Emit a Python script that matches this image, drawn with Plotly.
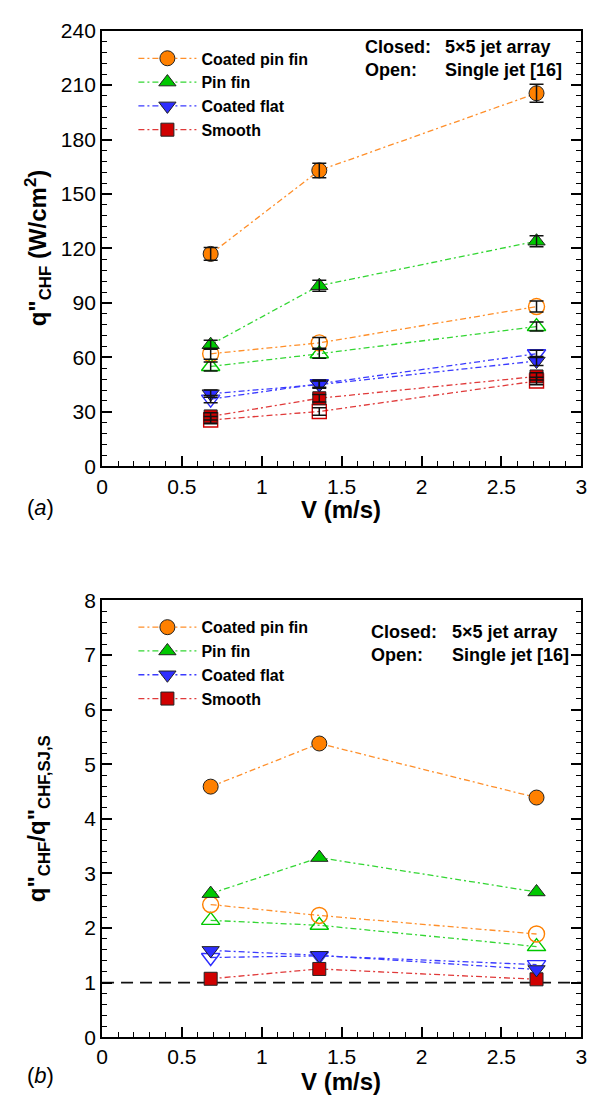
import plotly.graph_objects as go

# ---------------- data ----------------
V = [0.68, 1.36, 2.72]
series_names = ["Coated pin fin", "Pin fin", "Coated flat", "Smooth"]

# (a) CHF, W/cm2 : closed = 5x5 jet array, open = single jet [16]
chf_closed = {
    "Coated pin fin": [117, 163, 205.5],
    "Pin fin": [67, 99.5, 124],
    "Coated flat": [40, 45, 58],
    "Smooth": [27.5, 37.5, 49.5],
}
chf_closed_err = {
    "Coated pin fin": [3.5, 4, 5],
    "Pin fin": [2.5, 3, 3],
    "Coated flat": [2, 2, 2.5],
    "Smooth": [2, 2, 2],
}
chf_open = {
    "Coated pin fin": [62, 68, 88],
    "Pin fin": [55, 62, 77],
    "Coated flat": [37, 45.5, 62],
    "Smooth": [25.5, 30.2, 47],
}
chf_open_err = {
    "Coated pin fin": [3, 3, 3],
    "Pin fin": [2.5, 2.5, 2.5],
    "Coated flat": [2, 2, 2],
    "Smooth": [2, 2, 2],
}

# (b) ratio q"CHF / q"CHF,SJ,S
ratio_closed = {
    "Coated pin fin": [4.59, 5.38, 4.39],
    "Pin fin": [2.63, 3.29, 2.66],
    "Coated flat": [1.59, 1.50, 1.24],
    "Smooth": [1.07, 1.25, 1.06],
}
ratio_open = {
    "Coated pin fin": [2.43, 2.23, 1.89],
    "Pin fin": [2.14, 2.05, 1.66],
    "Coated flat": [1.46, 1.49, 1.33],
}
ref_x = [0, 3]
ref_y = [1, 1]

x_ticks = [0, 0.5, 1, 1.5, 2, 2.5, 3]
x_tick_text = ["0", "0.5", "1", "1.5", "2", "2.5", "3"]
ya_ticks = [0, 30, 60, 90, 120, 150, 180, 210, 240]
yb_ticks = [0, 1, 2, 3, 4, 5, 6, 7, 8]

# ---------------- styles ----------------
fill = {"Coated pin fin": "#FF8000", "Pin fin": "#00C800",
        "Coated flat": "#2E2EFF", "Smooth": "#D00000"}
linec = {"Coated pin fin": "#FF8F2A", "Pin fin": "#33D633",
         "Coated flat": "#3A3AFF", "Smooth": "#E03A3A"}
sym = {"Coated pin fin": "circle", "Pin fin": "triangle-up",
       "Coated flat": "triangle-down", "Smooth": "square"}
msize = {"Coated pin fin": 15, "Pin fin": 15, "Coated flat": 15, "Smooth": 13}
DASH = "6px,3px,2px,3px"
FONT = "Liberation Sans, Arial, sans-serif"

fig = go.Figure()

def add_series(xa, ya, yvals, name, filled, legend, showlegend, rank=1000):
    fig.add_trace(go.Scatter(
        x=V, y=yvals, xaxis=xa, yaxis=ya, name="<b>" + name + "</b>",
        mode="lines+markers",
        line=dict(color=linec[name], width=1.3, dash=DASH),
        marker=dict(
            symbol=sym[name] if filled else sym[name] + "-open",
            size=msize[name] if filled else msize[name] + 1,
            color=fill[name],
            line=dict(color="#222222" if filled else fill[name],
                      width=1 if filled else 1.4),
        ),
        legend=legend, showlegend=showlegend, legendrank=rank,
    ))

def add_err(xa, ya, yvals, err):
    fig.add_trace(go.Scatter(
        x=V, y=yvals, xaxis=xa, yaxis=ya, mode="markers",
        marker=dict(size=1, color="rgba(0,0,0,0)"),
        error_y=dict(type="data", array=err, color="#111111",
                     thickness=1.5, width=7),
        showlegend=False, hoverinfo="skip",
    ))

# (a)
for n in series_names[::-1]:
    add_series("x", "y", chf_open[n], n, False, "legend", False)
for i, n in list(enumerate(series_names))[::-1]:
    add_series("x", "y", chf_closed[n], n, True, "legend", True, rank=i + 1)
for n in series_names:
    add_err("x", "y", chf_open[n], chf_open_err[n])
    add_err("x", "y", chf_closed[n], chf_closed_err[n])

# (b)
fig.add_trace(go.Scatter(x=ref_x, y=ref_y, xaxis="x2", yaxis="y2", mode="lines",
                         line=dict(color="#111111", width=1.6, dash="12px,7px"),
                         showlegend=False, hoverinfo="skip"))
for n in ["Coated flat", "Pin fin", "Coated pin fin"]:
    add_series("x2", "y2", ratio_open[n], n, False, "legend2", False)
for i, n in list(enumerate(series_names))[::-1]:
    add_series("x2", "y2", ratio_closed[n], n, True, "legend2", True, rank=i + 1)

W, H = 600, 1104
XD = [98 / W, 587 / W]
YA = [1 - 464 / H, 1 - 19 / H]
YB = [1 - 1047 / H, 1 - 601 / H]

def xaxis(anchor):
    return dict(domain=XD, range=[0, 3], anchor=anchor,
                tickvals=x_ticks, ticktext=x_tick_text,
                ticks="inside", ticklen=10, tickwidth=2, tickcolor="black",
                minor=dict(dtick=0.1, ticks="inside", ticklen=5, tickwidth=1,
                           tickcolor="black"),
                showline=True, linewidth=2, linecolor="black", mirror=True,
                showgrid=False, zeroline=False,
                tickfont=dict(family=FONT, size=21, color="black"))

def yaxis(anchor, dom, rng, ticks, mdt):
    return dict(domain=dom, range=rng, anchor=anchor,
                tickvals=ticks,
                ticks="inside", ticklen=10, tickwidth=2, tickcolor="black",
                minor=dict(dtick=mdt, ticks="inside", ticklen=5, tickwidth=1,
                           tickcolor="black"),
                showline=True, linewidth=2, linecolor="black", mirror="allticks",
                showgrid=False, zeroline=False,
                tickfont=dict(family=FONT, size=21, color="black"))

legend_common = dict(
    font=dict(family=FONT, size=16, color="black"),
    bgcolor="rgba(0,0,0,0)", borderwidth=0, itemwidth=58,
    xanchor="left", yanchor="top", traceorder="normal", itemclick=False,
    tracegroupgap=0,
)

fig.update_layout(
    width=W, height=H, margin=dict(l=0, r=0, t=0, b=0),
    paper_bgcolor="white", plot_bgcolor="white",
    xaxis=xaxis("y"), yaxis=yaxis("x", YA, [0, 240], ya_ticks, 6),
    xaxis2=xaxis("y2"), yaxis2=yaxis("x2", YB, [0, 8], yb_ticks, 0.2),
    legend=dict(x=130 / W, y=1 - 30 / H, **legend_common),
    legend2=dict(x=130 / W, y=1 - 611 / H, **legend_common),
)

ann = []
def A(text, x, y, size, xanchor="center", angle=0):
    ann.append(dict(text=text, x=x / W, y=1 - y / H, xref="paper", yref="paper",
                    xanchor=xanchor, yanchor="middle", align="left",
                    showarrow=False, textangle=angle,
                    font=dict(family=FONT, size=size, color="black")))

A("<b>V (m/s)</b>", 342, 508, 24)
A("<b>V (m/s)</b>", 342, 1092, 24)
A("<b>q\"<sub>CHF</sub> (W/cm<sup>2</sup>)</b>", 33, 241, 24, angle=-90)
A("<b>q\"<sub>CHF</sub>/q\"<sub>CHF,SJ,S</sub></b>", 33, 824, 24, angle=-90)
A("(<i>a</i>)", 35, 506, 22)
A("(<i>b</i>)", 35, 1086, 22)
A("<b>Closed:<br>Open:</b>", 364, 48, 18, "left")
A("<b>5×5 jet array<br>Single jet [16]</b>", 446, 48, 18, "left")
A("<b>Closed:<br>Open:</b>", 370, 645, 18, "left")
A("<b>5×5 jet array<br>Single jet [16]</b>", 453, 645, 18, "left")
fig.update_layout(annotations=ann)

fig.write_html("out.html", config={"displayModeBar": False})
